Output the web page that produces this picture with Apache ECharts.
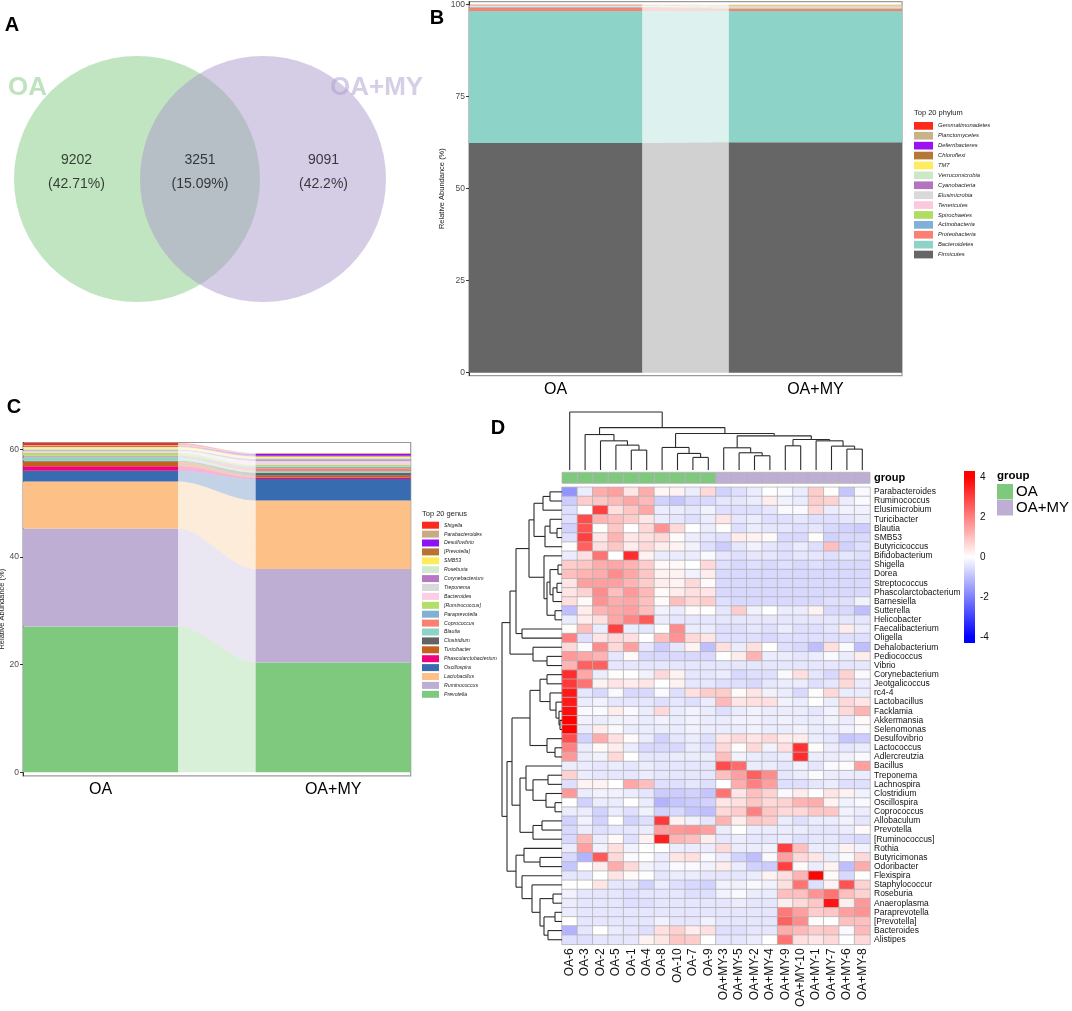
<!DOCTYPE html>
<html>
<head>
<meta charset="utf-8">
<script src="https://cdn.jsdelivr.net/npm/echarts@6.0.0/dist/echarts.min.js"></script>
<style>
  html, body { margin: 0; padding: 0; background: #fff; }
  #main { width: 1072px; height: 1011px; }
</style>
</head>
<body>
<div id="main"></div>
<script>
const FONT = '"Liberation Sans", Arial, sans-serif';

// ---- A: venn
const vennSets = ['OA', 'OA+MY'];
const vennCounts = [9202, 3251, 9091];   // OA only, shared, OA+MY only

// ---- B: phylum (legend order, top -> bottom)
const groups = ['OA', 'OA+MY'];
const phyla = ['Gemmatimonadetes', 'Planctomycetes', 'Deferribacteres', 'Chloroflexi', 'TM7',
  'Verrucomicrobia', 'Cyanobacteria', 'Elusimicrobia', 'Tenericutes', 'Spirochaetes',
  'Actinobacteria', 'Proteobacteria', 'Bacteroidetes', 'Firmicutes'];
const phylumOA = [0.01, 0.01, 0.05, 0.02, 0.05, 0.05, 0.05, 0.2, 0.15, 0.05, 0.2, 0.8, 35.9, 62.4];
const phylumOAMY = [0.01, 0.02, 0.05, 0.02, 0.2, 0.1, 0.05, 0.1, 0.15, 0.3, 0.15, 0.5, 35.7, 62.6];
const phylumColors = ['#fb2a1a', '#c9b189', '#9a12f0', '#b5763a', '#ffea60', '#cde8c6', '#b374c0',
  '#d9d9d9', '#fbc9df', '#b1dc62', '#7eb0d8', '#fb7f72', '#8dd3c7', '#666666'];

// ---- C: genus (legend order, top -> bottom)
const genera = ['Shigella', 'Parabacteroides', 'Desulfovibrio', '[Prevotella]', 'SMB53', 'Roseburia',
  'Corynebacterium', 'Treponema', 'Bacteroides', '[Ruminococcus]', 'Paraprevotella', 'Coprococcus',
  'Blautia', 'Clostridium', 'Turicibacter', 'Phascolarctobacterium', 'Oscillospira', 'Lactobacillus',
  'Ruminococcus', 'Prevotella'];
const genusOA = [0.35, 0.15, 0.1, 0.15, 0.3, 0.2, 0.15, 0.25, 0.2, 0.5, 0.2, 0.15, 0.6, 0.15, 0.85, 0.85, 2.0, 8.75, 18.2, 27.1];
const genusOAMY = [0.05, 0.1, 0.3, 0.15, 0.2, 0.3, 0.3, 0.3, 0.5, 0.3, 0.3, 0.5, 0.3, 0.6, 0.3, 0.3, 4.0, 12.7, 17.4, 20.4];
const genusColors = ['#fb2a1e', '#c8ab84', '#8f12f5', '#b87333', '#ffec5c', '#cfeacc', '#b877c4',
  '#d9d9d9', '#fccde5', '#b3de69', '#80b1d3', '#fb8072', '#8dd3c7', '#636363', '#c4621c',
  '#f0027f', '#386cb0', '#fdc086', '#beaed4', '#7fc97f'];

// ---- D: heatmap (row z-scores)
const sampleNames = ['OA-6', 'OA-3', 'OA-2', 'OA-5', 'OA-1', 'OA-4', 'OA-8', 'OA-10', 'OA-7', 'OA-9',
  'OA+MY-3', 'OA+MY-5', 'OA+MY-2', 'OA+MY-4', 'OA+MY-9', 'OA+MY-10', 'OA+MY-1', 'OA+MY-7', 'OA+MY-6', 'OA+MY-8'];
const heatGenera = ['Parabacteroides', 'Ruminococcus', 'Elusimicrobium', 'Turicibacter', 'Blautia', 'SMB53',
  'Butyricicoccus', 'Bifidobacterium', 'Shigella', 'Dorea', 'Streptococcus', 'Phascolarctobacterium',
  'Barnesiella', 'Sutterella', 'Helicobacter', 'Faecalibacterium', 'Oligella', 'Dehalobacterium',
  'Pediococcus', 'Vibrio', 'Corynebacterium', 'Jeotgalicoccus', 'rc4-4', 'Lactobacillus', 'Facklamia',
  'Akkermansia', 'Selenomonas', 'Desulfovibrio', 'Lactococcus', 'Adlercreutzia', 'Bacillus', 'Treponema',
  'Lachnospira', 'Clostridium', 'Oscillospira', 'Coprococcus', 'Allobaculum', 'Prevotella',
  '[Ruminococcus]', 'Rothia', 'Butyricimonas', 'Odoribacter', 'Flexispira', 'Staphylococcur',
  'Roseburia', 'Anaeroplasma', 'Paraprevotella', '[Prevotella]', 'Bacteroides', 'Alistipes'];
const heatValues = [
  [-1.7, -0.3, 1.3, 1.5, 0.4, 1.3, 0.15, 0.2, -0.3, 0.6, -0.7, -0.5, -0.3, 0, -0.1, -0.3, 0.8, 0.05, -0.9, -0.1],
  [-0.8, 0.8, 0.9, 1.1, 1.4, 1.1, -0.7, -0.9, -0.6, -0.6, -0.4, -0.4, -0.3, 0.3, -0.2, -0.3, 0.8, 0.7, -0.3, -0.1],
  [-0.5, 0, 3.0, 0.5, 0.9, 1.4, -0.3, -0.3, -0.4, -0.2, -0.5, -0.5, -0.5, -0.4, -0.1, -0.1, 0.6, -0.3, -0.2, -0.2],
  [-0.5, 2.8, 1.2, 1.0, 0.8, 0.4, -0.3, -0.4, -0.5, -0.3, 0.4, -0.4, -0.3, -0.5, -0.5, -0.4, -0.5, -0.5, -0.4, -0.3],
  [-0.7, 2.7, 0.05, 0.9, 0, 0.6, 1.7, 0.6, 0, -0.3, 0.05, -0.5, -0.3, -0.4, -0.4, -0.5, -0.4, -0.6, -0.7, -0.8],
  [-0.5, 3.0, 0.4, 1.2, 0.4, 0.5, 0.6, 0.1, -0.3, -0.4, -0.5, 0.3, 0.2, 0.1, -0.6, -0.6, 0.05, -0.7, -0.6, -0.6],
  [0.05, 2.5, 0.5, 0.9, 0.3, 0.6, 0.3, 0.2, -0.2, -0.5, -0.8, -0.4, -0.2, -0.4, -0.5, -0.3, -0.5, 1.0, -0.7, -0.5],
  [-0.3, 0.5, 2.2, 0, 3.3, 0.2, -0.3, -0.3, -0.3, -0.1, -0.4, -0.5, -0.4, -0.4, -0.5, -0.4, -0.4, -0.5, -0.4, -0.5],
  [0.8, 0.9, 1.3, 1.4, 1.2, 0.8, 0.1, 0.1, 0, 0.6, -0.5, -0.6, -0.5, -0.6, -0.5, -0.6, -0.5, -0.6, -0.6, -0.6],
  [1.0, 1.2, 1.3, 1.8, 1.4, 0.9, 0.2, 0.2, -0.2, 0.3, -0.6, -0.6, -0.6, -0.6, -0.6, -0.6, -0.6, -0.6, -0.6, -0.6],
  [0.4, 1.5, 1.5, 1.5, 1.2, 0.8, 0.3, 0.2, 0.6, 0.1, -0.6, -0.6, -0.6, -0.6, -0.6, -0.6, -0.6, -0.6, -0.6, -0.6],
  [0.4, 0.7, 1.8, 1.0, 1.6, 1.1, 0.1, 0.3, 0.5, 0.4, -0.6, -0.6, -0.6, -0.6, -0.6, -0.6, -0.6, -0.6, -0.6, -0.6],
  [0.5, 0.1, 1.7, 1.3, 1.4, 1.0, 0.1, 1.0, 0.6, 0.8, -0.5, -0.6, -0.6, -0.6, -0.6, -0.6, -0.6, -0.5, -0.5, -0.2],
  [-1.0, 0.3, 1.2, 1.4, 1.5, 1.0, -0.2, -0.3, 0.1, 0, -0.4, 0.8, -0.2, 0, -0.3, -0.3, 0.2, -0.6, -0.6, -1.0],
  [-0.3, 0.3, 0.5, 1.4, 1.9, 2.6, -0.3, -0.4, -0.4, -0.4, -0.4, -0.4, -0.4, -0.4, -0.4, -0.4, -0.4, -0.4, -0.4, -0.4],
  [0.05, 1.0, -0.3, 3.0, -0.3, -0.4, 0, 1.8, -0.3, -0.3, -0.5, -0.5, -0.4, -0.5, -0.3, -0.5, -0.5, -0.4, 0.3, -0.3],
  [2.0, -0.5, 0.4, 0.6, 0.5, 0, 1.0, 1.7, 0.6, 0.4, -0.5, -0.5, -0.5, -0.6, -0.5, -0.5, -0.5, -0.5, -0.5, -0.5],
  [0.6, -0.1, 1.8, 0.6, 1.5, -0.4, -0.8, -0.4, 0.2, -1.0, 0.5, -0.3, 0.5, 0, -0.5, -0.6, -1.0, 0.5, -0.1, -1.0],
  [1.6, 1.4, 1.2, -0.4, 0.1, -0.6, -0.6, -0.6, -0.6, -0.6, 0, 0.3, 1.2, -0.3, -0.3, -0.4, -0.3, -0.1, -0.3, 0.3],
  [1.2, 2.5, 2.5, -0.4, -0.4, -0.4, -0.4, -0.4, -0.4, -0.4, -0.4, -0.4, -0.4, -0.4, -0.4, -0.4, -0.4, -0.4, -0.4, -0.4],
  [3.3, 1.4, -0.3, 0.05, 0, -0.2, 0.6, 0.2, -0.4, -0.4, -0.3, -0.6, -0.5, -0.5, -0.1, 0.5, -0.4, -0.6, 0.7, -0.1],
  [3.1, 2.2, 0.2, 0.4, 0.3, 0.4, 0, 0.2, -0.4, -0.4, -0.5, -0.5, -0.6, -0.4, -0.3, -0.3, -0.5, -0.4, 0.6, -0.3],
  [3.6, -0.4, -0.6, -0.1, -0.6, -0.6, -0.1, -0.5, 0.5, 0.8, 0.8, 0.1, 0.4, -0.2, -0.3, -0.6, 0.05, 0.6, -0.3, -0.3],
  [3.6, -0.3, -0.2, -0.4, -0.4, -0.4, -0.5, -0.4, -0.5, -0.3, 1.1, 0.4, 0.5, 0.5, -0.2, -0.3, 0, -0.3, 0.6, 0.4],
  [3.8, -0.1, -0.1, 0.3, -0.1, -0.3, 0.6, -0.3, -0.2, -0.3, -0.5, -0.3, -0.2, -0.3, -0.3, -0.3, -0.4, -0.2, 0.6, 1.2],
  [4.0, -0.2, -0.3, -0.2, -0.2, -0.3, -0.2, -0.3, -0.2, -0.3, -0.3, -0.2, -0.2, -0.3, -0.2, -0.3, -0.3, -0.2, -0.3, 0.1],
  [4.0, -0.3, 0.3, -0.1, -0.3, -0.3, -0.3, -0.3, -0.2, -0.3, -0.3, -0.3, -0.2, -0.3, -0.3, -0.2, -0.3, -0.3, -0.2, -0.1],
  [2.8, -0.7, 1.3, 0.5, 0.1, -0.3, -0.7, -0.4, -0.3, -0.5, 0.4, 0.6, 0.4, 0.6, 0.3, 0.3, -0.3, -0.4, -0.9, -0.8],
  [2.0, -0.3, 0.1, 0.3, -0.3, -0.6, -0.6, -0.6, -0.3, -0.5, 0.6, 0.05, 0.6, -0.2, 0.5, 3.2, 0.05, -0.3, -0.4, -0.3],
  [1.6, -0.3, -0.2, 0.6, 0, -0.4, -0.4, -0.3, -0.3, -0.3, 1.0, -0.2, -0.3, -0.4, -0.3, 3.3, -0.3, -0.3, -0.2, -0.1],
  [-0.3, -0.3, -0.4, -0.3, -0.4, -0.3, -0.4, -0.4, -0.4, -0.4, 2.8, 2.3, -0.3, -0.3, -0.4, -0.2, -0.4, -0.1, 0.05, 1.5],
  [0.7, -0.3, -0.4, -0.4, -0.4, -0.3, -0.4, -0.4, -0.4, -0.4, 1.0, 1.5, 2.5, 1.8, -0.4, -0.3, -0.1, -0.3, -0.3, -0.3],
  [-0.5, 0.2, 0.2, 0, 1.4, 1.0, -0.5, -0.5, -0.4, -0.5, 0, 1.3, 2.0, 1.5, -0.5, -0.5, -0.4, -0.3, -0.5, -0.5],
  [1.6, -0.3, -0.2, -0.2, -0.3, -0.4, -0.8, -0.8, -0.7, -0.9, 2.2, 0.4, 1.0, 0.7, -0.1, 0.3, 0, 0.4, 0.2, -0.2],
  [0, -0.7, -0.3, -0.3, 0, -0.3, -1.2, -0.9, -0.8, -0.7, 0.4, 0.5, 0.9, 0.6, 0.7, 1.2, 1.3, 0.2, -0.2, -0.1],
  [-0.3, -0.3, -0.7, -0.3, -0.5, -0.2, -0.7, -0.6, -0.9, -1.0, 0.6, 0.8, 2.0, 0.9, 0.6, 0.6, 0.9, 0.9, -0.2, -0.3],
  [-0.7, -0.2, -0.7, 0, -0.7, -0.5, 3.1, 0.2, -0.2, -0.4, 1.2, 0.3, 0.9, 0.8, -0.3, -0.5, -0.3, -0.3, -0.2, -0.4],
  [-0.6, -0.3, -0.5, -0.4, -0.4, -0.3, 1.5, 1.6, 1.7, 1.5, -0.3, 0, -0.3, -0.3, -0.3, -0.3, -0.4, -0.4, -0.3, 0.1],
  [-0.6, 1.1, -0.3, 0.1, -0.5, 0.2, 3.5, 1.2, 1.0, 0.3, -0.4, -0.3, -0.4, -0.4, -0.3, -0.5, -0.4, -0.4, -0.5, -0.6],
  [-0.3, 1.5, -0.2, 0.5, -0.2, 0, 0, -0.3, -0.3, -0.3, 0.6, -0.3, -0.3, -0.2, 3.0, 1.0, -0.3, -0.3, 0.2, -0.2],
  [-0.6, -1.2, 2.6, 0.6, -0.1, 0, -0.3, 0.4, 0.5, -0.1, -0.3, -0.7, -1.0, -0.1, 1.5, 0.6, 0.4, -0.3, -0.1, 0.6],
  [-0.9, 0, 0.3, 1.3, 0.6, -0.2, -0.3, -0.1, -0.1, -0.2, 0.3, -0.3, -0.7, -0.8, 3.0, 0.1, -0.3, 0.2, -1.0, 1.3],
  [-0.4, -0.4, 0, 0.4, 0.1, 0, -0.4, -0.3, -0.3, -0.4, -0.4, -0.4, -0.3, 0.2, 0.5, 1.2, 3.9, 0.1, -0.6, 0],
  [0, 0, 0.4, -0.4, -0.4, -0.7, -0.3, -0.5, -0.6, -0.7, -0.2, -0.2, -0.1, -0.2, 0.5, 2.2, -0.5, 0.2, 2.7, 0.7],
  [-0.2, -0.4, -0.4, -0.4, -0.5, -0.4, -0.4, -0.4, -0.5, -0.5, -0.2, -0.1, -0.3, -0.3, 1.0, 1.0, 1.7, 2.2, 1.0, 0.7],
  [-0.3, -0.4, -0.4, -0.4, -0.5, -0.5, -0.4, -0.4, -0.4, -0.4, -0.4, -0.3, -0.4, -0.4, 0.3, 0.6, 0.9, 3.7, 0.3, 1.6],
  [-0.3, -0.4, -0.4, -0.4, -0.4, -0.4, -0.4, -0.4, -0.4, -0.4, -0.4, -0.4, -0.4, -0.4, 2.1, 1.5, 0.8, 0.9, 1.5, 1.7],
  [0, -0.4, -0.4, -0.4, -0.4, -0.4, -0.2, -0.4, -0.4, -0.2, -0.4, -0.4, -0.4, -0.4, 2.5, 1.8, 0.05, 0, 1.0, 1.0],
  [-1.2, -0.4, 0, -0.3, -0.4, -0.5, 0.5, 0.7, 0.3, 0.5, -0.5, -0.5, -0.4, -0.4, 1.3, 1.1, 0.8, 0.9, -0.1, 1.1],
  [-0.5, -0.5, -0.4, -0.4, -0.4, 0.2, 0.4, 0.9, 0.8, 0, -0.4, -0.4, -0.3, 0, 2.2, 0.5, 0.4, 0.6, 0, 0.6]
];
const groupColors = ['#7fc97f', '#beaed4'];
const colorbarTicks = [4, 2, 0, -2, -4];

// dendrograms: [height, left, right], leaves are indices
const colTree = [175, 0, [128, [107, 1, [88, 2, [75, 3, [60, 4, 5]]]],
  [110, [68, 6, [50, 7, [38, 8, 9]]],
    [103, [67, 10, [52, 11, [43, 12, 13]]], [92, [73, 14, 15], [88, 16, [72, 17, [63, 18, 19]]]]]]]];
const rowTree = [60,
  [52,
    [46, [33, [28, [19, [12, 0, 1], 2], [17, [12, 3, [5, 4, 5]], 6]],
              [18, 7, [15, [12, [4, 8, 9], [9, [5, 10, 11], 12]], [7, 13, 14]]]],
         [40, 15, 16]],
    [29, 17, [15, 18, 19]]],
  [55,
    [50, [32, [22, [15, 20, 21], [12, 22, [6, 23, [3, 24, [2, 25, 26]]]]], [15, 27, [7, 28, 29]]],
         [42, [36, 30, [29, [14, 31, 32], [16, 33, [7, 34, 35]]]], [29, [20, 36, 37], 38]]],
    [46, [38, 39, [22, 40, 41]], [40, 42, [30, 43, [22, [9, 44, 45], [18, [7, 46, 47], [14, 48, 49]]]]]]]];

// ---------------------------------------------------------------
const chart = echarts.init(document.getElementById('main'));
const BAR_HALF = 1 / 3;

function renderAlluvium(params, api) {
  const color = api.visual('color');
  const lo0 = api.value(0), hi0 = api.value(1), lo1 = api.value(2), hi1 = api.value(3);
  const bar = (x, lo, hi) => {
    const a = api.coord([x - BAR_HALF, hi]), b = api.coord([x + BAR_HALF, lo]);
    return { type: 'rect', shape: { x: a[0], y: a[1], width: b[0] - a[0], height: b[1] - a[1] }, style: { fill: color } };
  };
  // flow ribbon between the two stacks
  const xa = 1 + BAR_HALF, xb = 2 - BAR_HALF, pts = [], N = 30;
  for (let k = 0; k <= N; k++) {
    const t = k / N, s = t * t * (3 - 2 * t);
    pts.push(api.coord([xa + (xb - xa) * t, hi0 + (hi1 - hi0) * s]));
  }
  for (let k = N; k >= 0; k--) {
    const t = k / N, s = t * t * (3 - 2 * t);
    pts.push(api.coord([xa + (xb - xa) * t, lo0 + (lo1 - lo0) * s]));
  }
  return {
    type: 'group',
    children: [
      { type: 'polygon', shape: { points: pts }, style: { fill: color, opacity: 0.3 } },
      bar(1, lo0, hi0),
      bar(2, lo1, hi1)
    ]
  };
}

// one custom series per taxon, stacked from the last legend entry upward
function alluvialSeries(names, a, b, colors, axis) {
  const out = [];
  let ca = 0, cb = 0;
  for (let i = names.length - 1; i >= 0; i--) {
    out.push({
      type: 'custom', name: names[i], xAxisIndex: axis, yAxisIndex: axis,
      itemStyle: { color: colors[i] }, silent: true, clip: false,
      renderItem: renderAlluvium,
      data: [[ca, ca + a[i], cb, cb + b[i]]]
    });
    ca += a[i];
    cb += b[i];
  }
  return out;
}

function treeSegments(node, out) {
  if (typeof node === 'number') return { pos: node + 0.5, h: 0 };
  const l = treeSegments(node[1], out), r = treeSegments(node[2], out), h = node[0];
  out.push([l.pos, l.h, l.pos, h], [r.pos, r.h, r.pos, h], [l.pos, h, r.pos, h]);
  return { pos: (l.pos + r.pos) / 2, h: h };
}

function renderSegment(params, api) {
  const p = api.coord([api.value(0), api.value(1)]), q = api.coord([api.value(2), api.value(3)]);
  return { type: 'line', shape: { x1: p[0], y1: p[1], x2: q[0], y2: q[1] }, style: { stroke: '#2b2b2b', lineWidth: 1.1 } };
}

const colSegs = [];
treeSegments(colTree, colSegs);
const rowSegs = [];
treeSegments(rowTree, rowSegs);
const rowSegsXY = rowSegs.map(s => [s[1], s[0], s[3], s[2]]);

const heatData = [];
heatValues.forEach((row, r) => row.forEach((v, c) => heatData.push([c, r, v])));

const vennTotal = vennCounts.reduce((s, v) => s + v, 0);
const vennLabels = vennCounts.map(v => v + '\n(' + parseFloat((v / vennTotal * 100).toFixed(2)) + '%)');

const abundanceY = (grid, min, max, ticks, gap) => ({
  gridIndex: grid, type: 'value', min: min, max: max,
  name: 'Relative Abundance (%)', nameLocation: 'middle', nameGap: gap,
  nameTextStyle: { fontSize: 7.5, color: '#222', fontFamily: FONT },
  axisLine: { show: true, lineStyle: { color: '#333', width: 1 } },
  axisTick: { show: true, length: 3, customValues: ticks, lineStyle: { color: '#333' } },
  axisLabel: { customValues: ticks, fontSize: 8.5, color: '#4d4d4d', margin: 4, fontFamily: FONT },
  splitLine: { show: false }
});
const groupX = grid => ({
  gridIndex: grid, type: 'value', min: 1 - BAR_HALF, max: 2 + BAR_HALF,
  axisLine: { show: false }, axisTick: { show: false }, splitLine: { show: false },
  axisLabel: { customValues: [1, 2], formatter: v => groups[Math.round(v) - 1], fontSize: 16, color: '#000', margin: 6, fontFamily: FONT }
});

const series = [
  {
    type: 'scatter', xAxisIndex: 0, yAxisIndex: 0, silent: true, symbolSize: 246,
    data: [
      { value: [0, 0.5], itemStyle: { color: '#83c983', opacity: 0.5 } },
      { value: [1, 0.5], itemStyle: { color: '#ac9acc', opacity: 0.5 } }
    ]
  },
  {
    type: 'scatter', xAxisIndex: 0, yAxisIndex: 0, silent: true, symbolSize: 0,
    data: [[-0.48, 0.52], [0.5, 0.52], [1.48, 0.52]],
    label: {
      show: true, position: 'inside', formatter: p => vennLabels[p.dataIndex],
      fontSize: 14, lineHeight: 24, color: '#111', fontFamily: FONT
    }
  },
  ...alluvialSeries(phyla, phylumOA, phylumOAMY, phylumColors, 1),
  ...alluvialSeries(genera, genusOA, genusOAMY, genusColors, 2)
];
const heatIndex = series.length;
series.push(
  {
    type: 'heatmap', xAxisIndex: 3, yAxisIndex: 3, data: heatData, silent: true, progressive: 0,
    itemStyle: { borderColor: '#b3b3b3', borderWidth: 0.8 }, emphasis: { disabled: true }
  },
  {
    type: 'custom', xAxisIndex: 6, yAxisIndex: 6, silent: true,
    data: sampleNames.map((n, i) => [i, n.indexOf('OA+MY') === 0 ? 1 : 0]),
    renderItem: (params, api) => {
      const c = api.coord([api.value(0), 0]), s = api.size([1, 1]);
      return {
        type: 'rect', shape: { x: c[0] - s[0] / 2, y: c[1] - s[1] / 2, width: s[0], height: s[1] },
        style: { fill: groupColors[api.value(1)], stroke: '#b3b3b3', lineWidth: 0.8 }
      };
    }
  },
  { type: 'custom', xAxisIndex: 4, yAxisIndex: 4, silent: true, clip: false, data: colSegs, encode: { x: [0, 2], y: [1, 3] }, renderItem: renderSegment },
  { type: 'custom', xAxisIndex: 5, yAxisIndex: 5, silent: true, clip: false, data: rowSegsXY, encode: { x: [0, 2], y: [1, 3] }, renderItem: renderSegment }
);

const legendText = (size, lh) => ({ fontSize: size, lineHeight: lh, fontStyle: 'italic', color: '#222', fontFamily: FONT });
const legendCommon = { orient: 'vertical', icon: 'rect', padding: 0, selectedMode: false };

const txt = (x, y, text, font, fill, align) => ({
  type: 'text', x: x, y: y,
  style: { text: text, font: font, fill: fill || '#000', align: align || 'left', verticalAlign: 'middle' }
});

// colour key of the heatmap
const cbTop = 471, cbBottom = 643, cbMax = 4.3;
const cbY = v => cbTop + (cbMax - v) / (2 * cbMax) * (cbBottom - cbTop);
const cbStop = v => (cbY(v) - cbTop) / (cbBottom - cbTop);

const graphics = [
  txt(12, 25, 'A', 'bold 20px ' + FONT, '#000', 'center'),
  txt(437, 18, 'B', 'bold 20px ' + FONT, '#000', 'center'),
  txt(14, 407, 'C', 'bold 20px ' + FONT, '#000', 'center'),
  txt(498, 428, 'D', 'bold 20px ' + FONT, '#000', 'center'),
  txt(8, 88, vennSets[0], 'bold 26px ' + FONT, '#bfe3bf'),
  txt(330, 88, vennSets[1], 'bold 26px ' + FONT, '#d6cee6'),
  txt(914, 113, 'Top 20 phylum', '7.5px ' + FONT, '#222'),
  txt(422, 514, 'Top 20 genus', '7.5px ' + FONT, '#222'),
  txt(874, 478, 'group', 'bold 11px ' + FONT),
  {
    type: 'rect', shape: { x: 964, y: cbTop, width: 11, height: cbBottom - cbTop },
    style: {
      fill: new echarts.graphic.LinearGradient(0, 0, 0, 1, [
        { offset: 0, color: '#ff0000' }, { offset: cbStop(4), color: '#ff0000' },
        { offset: cbStop(0), color: '#ffffff' },
        { offset: cbStop(-4), color: '#0000ff' }, { offset: 1, color: '#0000ff' }
      ])
    }
  },
  ...colorbarTicks.map(v => txt(980, cbY(v), String(v), '10px ' + FONT, '#111')),
  txt(997, 476, 'group', 'bold 11.5px ' + FONT),
  { type: 'rect', shape: { x: 997, y: 484, width: 16, height: 15.5 }, style: { fill: groupColors[0] } },
  { type: 'rect', shape: { x: 997, y: 500, width: 16, height: 15.5 }, style: { fill: groupColors[1] } },
  txt(1016, 492, groups[0], '15px ' + FONT),
  txt(1016, 508, groups[1], '15px ' + FONT)
];

const option = {
  animation: false,
  backgroundColor: '#fff',
  textStyle: { fontFamily: FONT },
  grid: [
    { left: 11, top: 0, width: 378, height: 358, outerBoundsMode: 'none' },
    { left: 469, top: 1.7, width: 433, height: 373.9, show: true, borderColor: '#9a9a9a', borderWidth: 1.2, backgroundColor: 'transparent', outerBoundsMode: 'none' },
    { left: 23, top: 442.5, width: 387.7, height: 333.3, show: true, borderColor: '#9a9a9a', borderWidth: 1.2, backgroundColor: 'transparent', outerBoundsMode: 'none' },
    { left: 562, top: 487.3, width: 308, height: 457, outerBoundsMode: 'none' },
    { left: 562, top: 412, width: 308, height: 58, outerBoundsMode: 'none' },
    { left: 502, top: 487.3, width: 60, height: 457, outerBoundsMode: 'none' },
    { left: 562, top: 472.3, width: 308, height: 11, outerBoundsMode: 'none' }
  ],
  xAxis: [
    { gridIndex: 0, type: 'value', min: -1, max: 2, show: false },
    groupX(1),
    groupX(2),
    {
      gridIndex: 3, type: 'category', data: sampleNames,
      axisLine: { show: false }, axisTick: { show: false }, splitArea: { show: false },
      axisLabel: { interval: 0, rotate: 90, fontSize: 12, margin: 4, color: '#111', fontFamily: FONT }
    },
    { gridIndex: 4, type: 'value', min: 0, max: sampleNames.length, show: false },
    { gridIndex: 5, type: 'value', min: 0, max: rowTree[0], inverse: true, show: false },
    { gridIndex: 6, type: 'category', data: sampleNames, show: false }
  ],
  yAxis: [
    { gridIndex: 0, type: 'value', min: 0, max: 1, show: false },
    abundanceY(1, -0.8, 100.8, [0, 25, 50, 75, 100], 23),
    abundanceY(2, -0.65, 61.3, [0, 20, 40, 60], 14),
    {
      gridIndex: 3, type: 'category', data: heatGenera, inverse: true, position: 'right',
      axisLine: { show: false }, axisTick: { show: false }, splitArea: { show: false },
      axisLabel: { interval: 0, fontSize: 8.5, margin: 4, color: '#111', fontFamily: FONT }
    },
    { gridIndex: 4, type: 'value', min: 0, max: colTree[0], show: false },
    { gridIndex: 5, type: 'value', min: 0, max: heatGenera.length, inverse: true, show: false },
    { gridIndex: 6, type: 'category', data: ['group'], show: false }
  ],
  visualMap: {
    type: 'continuous', show: false, min: -4, max: 4, seriesIndex: heatIndex,
    inRange: { color: ['#0000ff', '#ffffff', '#ff0000'] }
  },
  legend: [
    Object.assign({}, legendCommon, {
      data: phyla, left: 914, top: 122, itemWidth: 19, itemHeight: 7.7, itemGap: 2.2,
      textStyle: legendText(5.8, 7.7)
    }),
    Object.assign({}, legendCommon, {
      data: genera, left: 422, top: 521.7, itemWidth: 17, itemHeight: 7, itemGap: 1.9,
      textStyle: legendText(5.2, 7)
    })
  ],
  graphic: graphics,
  series: series
};

chart.setOption(option);
</script>
</body>
</html>
